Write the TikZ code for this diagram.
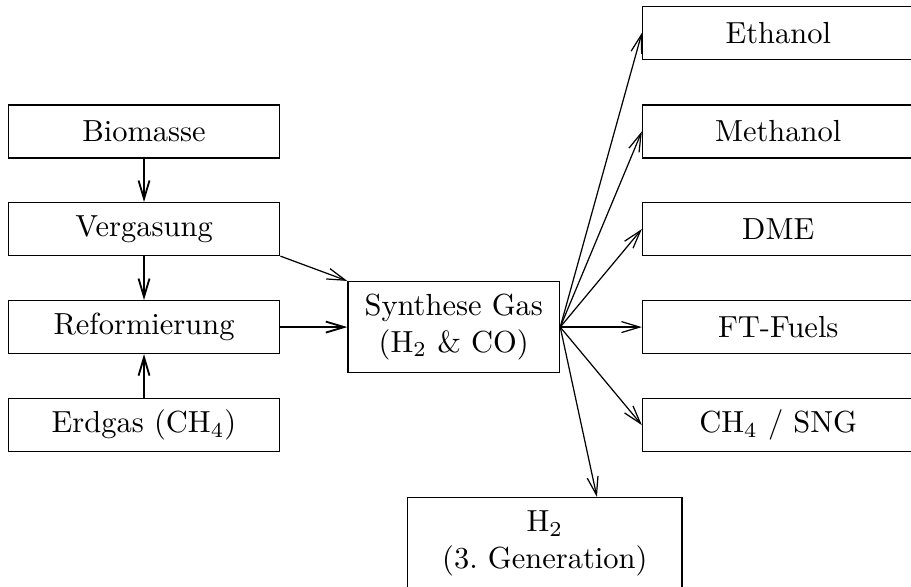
\documentclass[tikz,border=0pt]{standalone}
\usepackage{amsmath, amssymb}
\usetikzlibrary{arrows,arrows.meta}

\tikzset{
  >={Straight Barb[length=6pt,width=3.6pt]},
  box/.style={draw, minimum width=3.13cm, minimum height=0.61cm},
  twobox/.style={draw, align=center, minimum height=1.05cm},
  feed/.style={->, semithick},
  route/.style={->}
}

\begin{document}
\begin{tikzpicture}
\useasboundingbox (0,0) rectangle (10.5,-6.76);
% Ausgangsstoffe
\node[box] (bio) at (1.66,-1.515) {Biomasse};
\node[box] (verg) at (1.66,-2.64) {Vergasung};
\node[box] (ref) at (1.66,-3.77) {Reformierung};
\node[box] (erd) at (1.66,-4.90) {Erdgas (CH$_4$)};
\node[twobox, minimum width=2.44cm] (syn) at (5.23,-3.77) {Synthese Gas\\(H$_2$ \& CO)};
% Produkte
\node[box] (eth) at (8.97,-0.38) {Ethanol};
\node[box] (meth) at (8.97,-1.515) {Methanol};
\node[box] (dme) at (8.97,-2.64) {DME};
\node[box] (ft) at (8.97,-3.77) {FT-Fuels};
\node[box] (sng) at (8.97,-4.90) {CH$_4$ / SNG};
\node[twobox, minimum width=3.16cm] (h2) at (6.28,-6.26) {H$_2$\\(3.~Generation)};

\draw[feed] (bio) -- (verg);
\draw[feed] (verg) -- (ref);
\draw[feed] (erd) -- (ref);
\draw[feed] (ref) -- (syn);
\draw[route] (verg.south east) -- (syn.north west);

\draw[route] (syn.east) -- (eth.west);
\draw[route] (syn.east) -- (meth.west);
\draw[route] (syn.east) -- (dme.west);
\draw[route] (syn.east) -- (ft.west);
\draw[route] (syn.east) -- (sng.west);
\draw[route] (syn.east) -- ([xshift=0.6cm]h2.north);
\end{tikzpicture}
\end{document}
